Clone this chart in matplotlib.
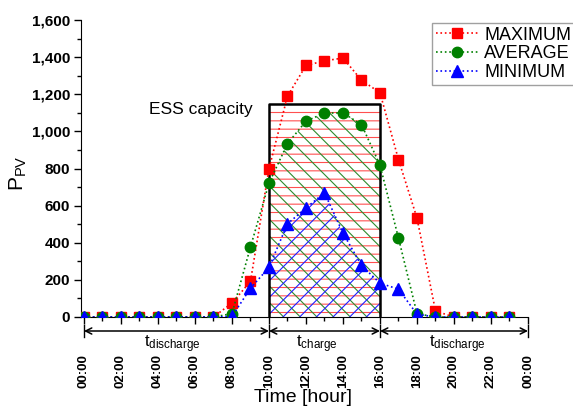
import matplotlib
matplotlib.use("Agg")
import matplotlib.pyplot as plt
from matplotlib.ticker import MultipleLocator, FuncFormatter
import numpy as np

plt.rcParams['font.family'] = ['Liberation Sans', 'DejaVu Sans']
plt.rcParams['mathtext.fontset'] = 'custom'
plt.rcParams['mathtext.rm'] = 'Liberation Sans'
plt.rcParams['mathtext.it'] = 'Liberation Sans:italic'
plt.rcParams['mathtext.bf'] = 'Liberation Sans:bold'
plt.rcParams['hatch.linewidth'] = 0.8

hours = list(range(24))
maximum = [0, 0, 0, 0, 0, 0, 0, 0, 75, 192, 798, 1190, 1355, 1380, 1395, 1276, 1208, 848, 533, 32, 0, 0, 0, 0]
average = [0, 0, 0, 0, 0, 0, 0, 0, 18, 377, 721, 934, 1055, 1099, 1099, 1037, 818, 425, 18, 0, 0, 0, 0, 0]
minimum = [0, 0, 0, 0, 0, 0, 0, 0, 3, 155, 267, 502, 587, 669, 452, 278, 182, 150, 15, 0, 0, 0, 0, 0]
ess_capacity = 1150
charge_start, charge_end = 10, 16
xtick_labels = ["00:00", "02:00", "04:00", "06:00", "08:00", "10:00", "12:00",
                "14:00", "16:00", "18:00", "20:00", "22:00", "00:00"]
yticks = [0, 200, 400, 600, 800, 1000, 1200, 1400, 1600]

fig = plt.figure(figsize=(5.73, 4.07), dpi=100)
ax = fig.add_axes([81/573, 1 - 317/407, 447/573, 297/407])

x = np.array(hours)
sl = slice(charge_start, charge_end + 1)
xs = x[sl]
# hatched regions inside the charge window
ax.fill_between(xs, 0, ess_capacity, facecolor='none', edgecolor='#ff5050',
                hatch='--', linewidth=0, zorder=1)
ax.fill_between(xs, 0, np.array(average)[sl], facecolor='none', edgecolor='#2e8b2e',
                hatch='\\\\', linewidth=0, zorder=1)
ax.fill_between(xs, 0, np.array(minimum)[sl], facecolor='none', edgecolor='#2020ff',
                hatch='//', linewidth=0, zorder=1)
ax.plot([charge_start, charge_start, charge_end, charge_end],
        [0, ess_capacity, ess_capacity, 0], color='black', lw=1.8, zorder=3)

ax.plot(x, maximum, ls=':', color='red', marker='s', ms=7, lw=1.2,
        label='MAXIMUM', zorder=4)
ax.plot(x, average, ls=':', color='green', marker='o', ms=7.5, lw=1.2,
        label='AVERAGE', zorder=5)
ax.plot(x, minimum, ls=':', color='blue', marker='^', ms=8, lw=1.2,
        label='MINIMUM', zorder=6)

ax.text(6.3, 1120, 'ESS capacity', fontsize=12.5, ha='center', va='center')

ax.set_xlim(-0.16, 24)
ax.set_ylim(0, 1600)
ax.set_yticks(yticks)
ax.yaxis.set_major_formatter(FuncFormatter(lambda v, p: f"{int(v):,}"))
ax.yaxis.set_minor_locator(MultipleLocator(100))
ax.set_xticks(list(range(0, 25, 2)))
ax.set_xticklabels(xtick_labels, rotation=90, fontweight='bold', fontsize=9.5, va='top')
ax.xaxis.set_minor_locator(MultipleLocator(1))
for lab in ax.get_yticklabels():
    lab.set_fontweight('bold')
    lab.set_fontsize(11)
ax.tick_params(axis='x', which='major', direction='out', length=5, width=1, pad=22)
ax.tick_params(axis='x', which='minor', direction='out', length=3, width=1)
ax.tick_params(axis='y', which='major', direction='out', length=5, width=1, pad=3)
ax.tick_params(axis='y', which='minor', direction='out', length=3, width=1)
ax.spines['top'].set_visible(False)
ax.spines['right'].set_visible(False)

# time windows below axis
ya = -14/297
trans = ax.get_xaxis_transform()
for a, b in [(0, charge_start), (charge_start, charge_end), (charge_end, 24)]:
    ax.annotate('', xy=(a, ya), xytext=(b, ya), xycoords=trans, textcoords=trans,
                arrowprops=dict(arrowstyle='<->', color='black', lw=1.1,
                                shrinkA=0, shrinkB=0, mutation_scale=11),
                annotation_clip=False)
for b in [0, charge_start, charge_end, 24]:
    ax.plot([b, b], [ya - 0.02, ya + 0.02], transform=trans, color='black',
            lw=1.0, clip_on=False)
ty = ya - 0.008
ax.text(4.8, ty, r'$\mathrm{t}_{\mathrm{discharge}}$', transform=trans,
        ha='center', va='top', fontsize=12)
ax.text(12.6, ty, r'$\mathrm{t}_{\mathrm{charge}}$', transform=trans,
        ha='center', va='top', fontsize=12)
ax.text(20.2, ty, r'$\mathrm{t}_{\mathrm{discharge}}$', transform=trans,
        ha='center', va='top', fontsize=12)

fig.text(303/573, 1 - 398/407, 'Time [hour]', ha='center', va='center',
         fontsize=14)
fig.text(18/573, 1 - 173/407, r'$\mathrm{P}_{\mathrm{PV}}$', ha='center',
         va='center', rotation=90, fontsize=15)

leg = ax.legend(loc='upper left', bbox_to_anchor=(432/573, 1 - 23/407),
                bbox_transform=fig.transFigure, fontsize=13, frameon=True,
                fancybox=False, edgecolor='#888888', handlelength=2.4,
                handletextpad=0.3, borderpad=0.2, labelspacing=0.1,
                borderaxespad=0)
leg.get_frame().set_linewidth(1.0)

fig.savefig('out.png', dpi=100)
